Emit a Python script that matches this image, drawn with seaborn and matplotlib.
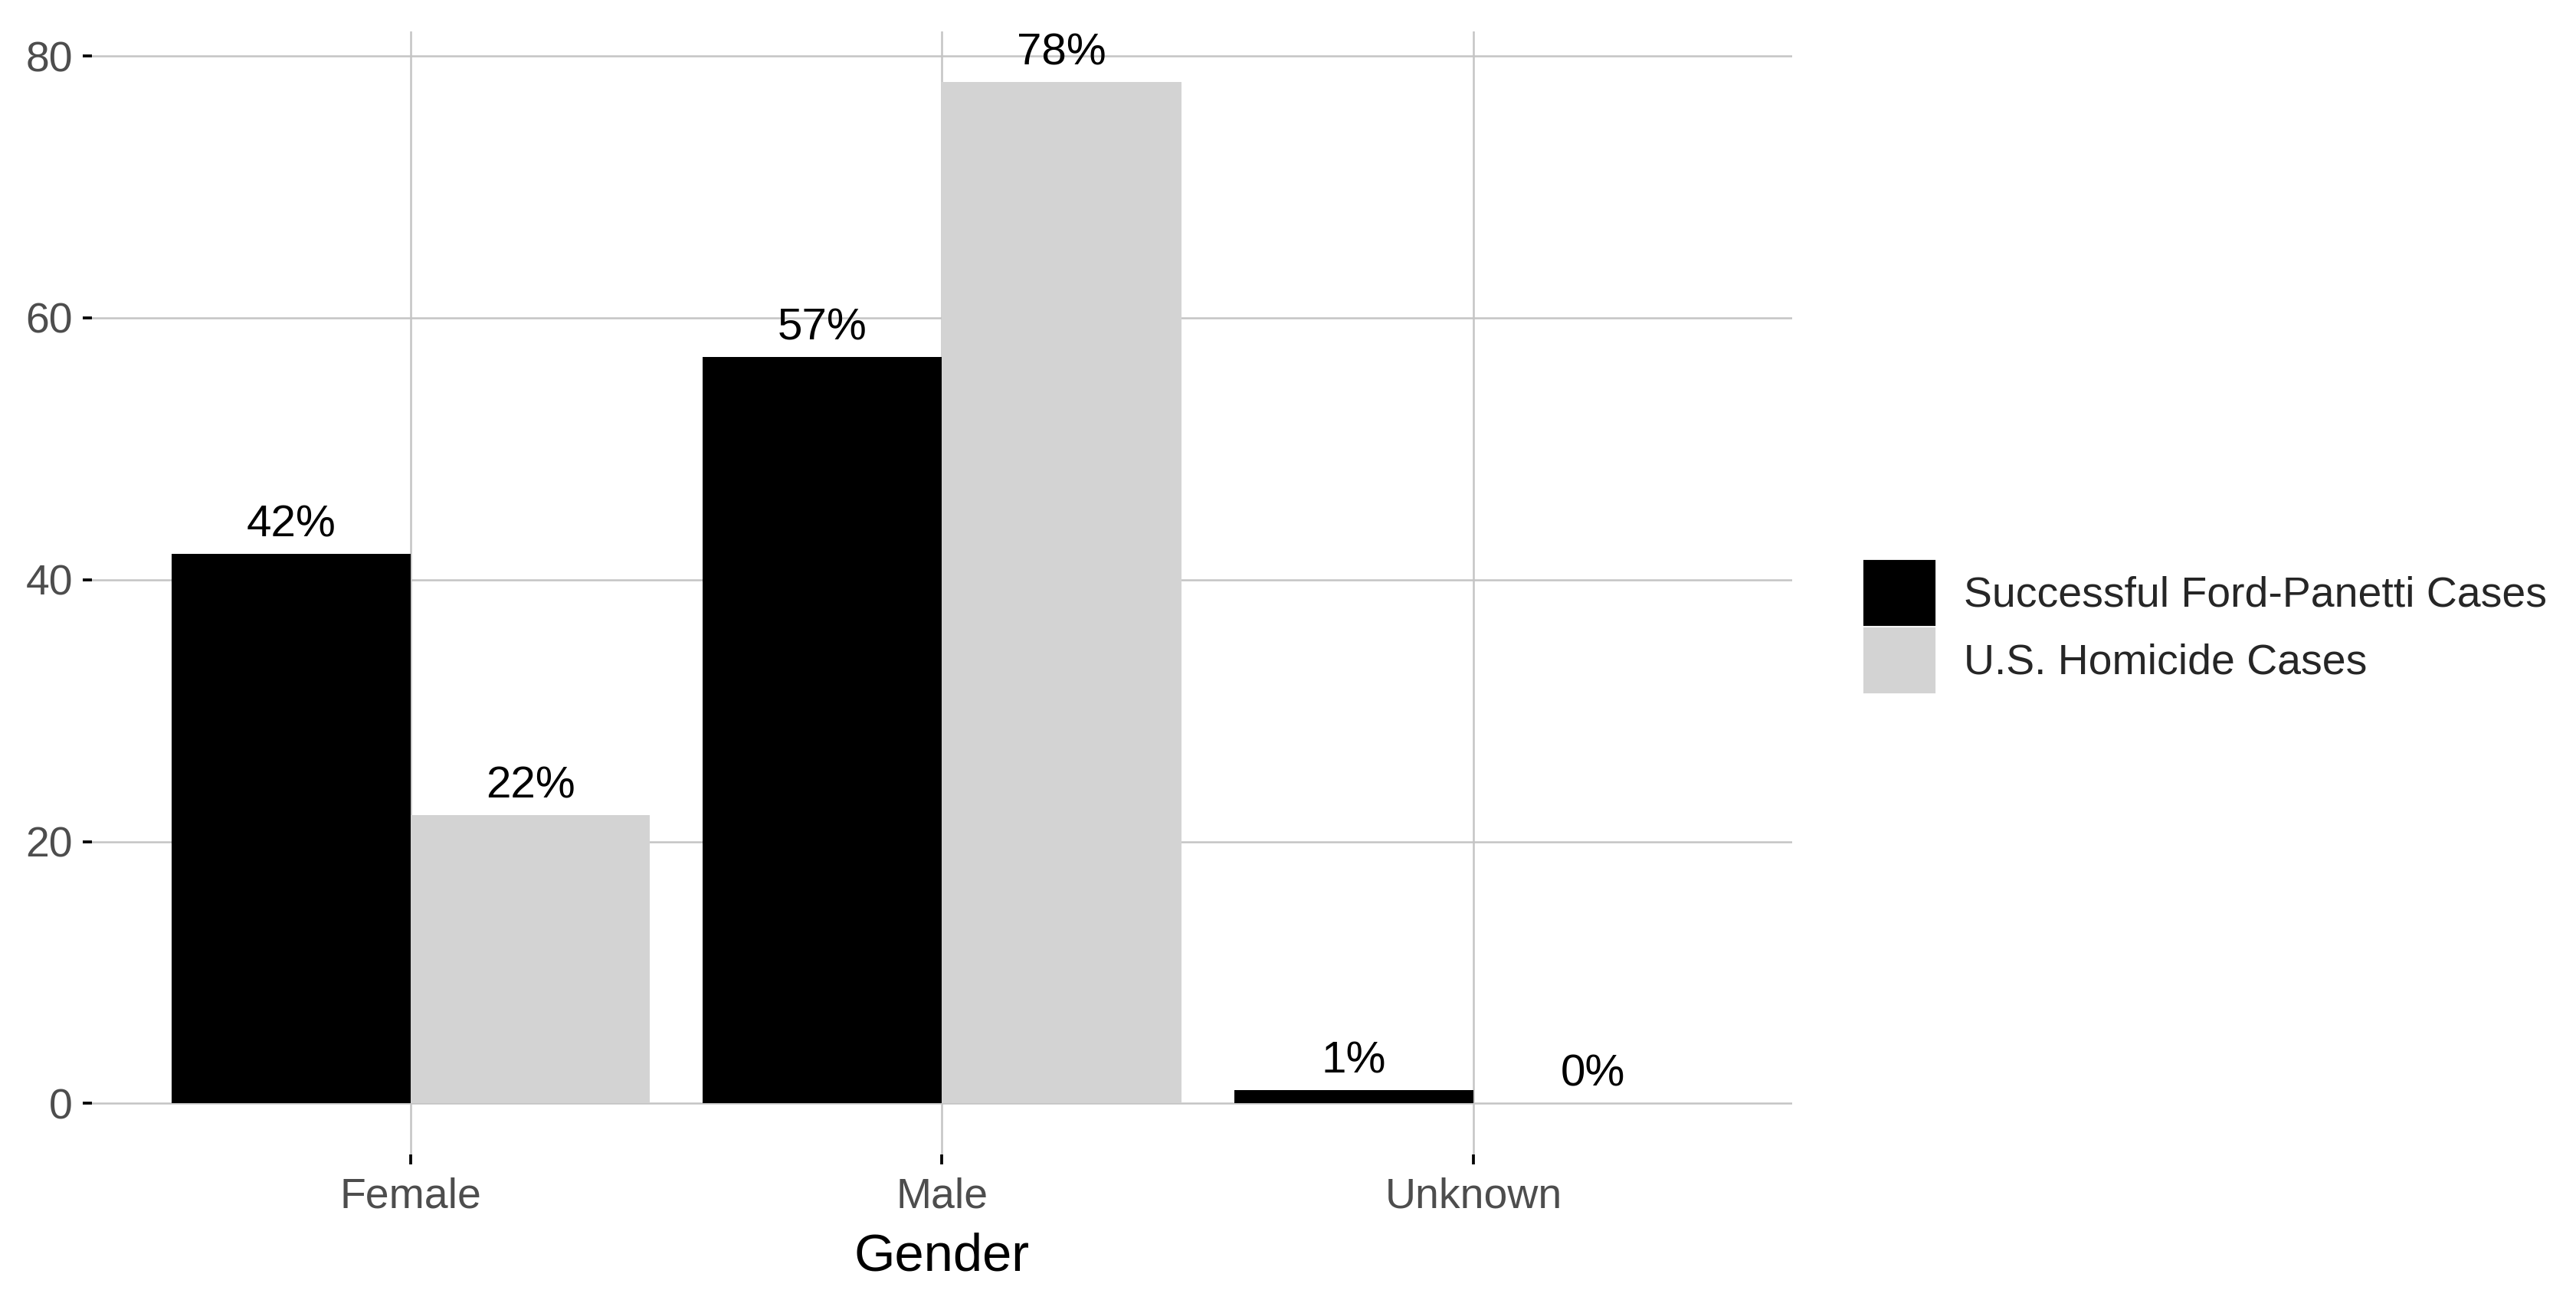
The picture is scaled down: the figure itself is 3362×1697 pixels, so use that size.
import matplotlib
matplotlib.use('Agg')
import matplotlib.pyplot as plt
import seaborn as sns
import pandas as pd

# values (percent)
genders = ['Female', 'Male', 'Unknown']
groups = ['Successful Ford-Panetti Cases', 'U.S. Homicide Cases']
ford_panetti = [42, 57, 1]
homicide = [22, 78, 0]
y_ticks = [0, 20, 40, 60, 80]

df = pd.DataFrame({
    'Gender': genders * 2,
    'Percent': ford_panetti + homicide,
    'Group': [groups[0]] * 3 + [groups[1]] * 3,
})

sns.set_theme(style='white')
plt.rcParams['font.family'] = ['Liberation Sans', 'DejaVu Sans']

fig = plt.figure(figsize=(3362 / 300, 1697 / 300), dpi=300)
ax = fig.add_axes([0.0357, 0.112, 0.660, 0.864])

sns.barplot(data=df, x='Gender', y='Percent', hue='Group', order=genders,
            hue_order=groups, palette=['black', '#D3D3D3'], width=0.9,
            gap=0, saturation=1, errorbar=None, linewidth=0, ax=ax)

for cont in ax.containers:
    ax.bar_label(cont, labels=[f'{v:.0f}%' for v in cont.datavalues],
                 padding=2.5, fontsize=14, color='black')

# ggplot-like scale expansion
ymax = max(ford_panetti + homicide)
ax.set_ylim(-0.05 * ymax, ymax * 1.05)
ax.set_xlim(-0.6, len(genders) - 0.4)
ax.set_yticks(y_ticks)

ax.grid(True, color='#C4C4C4', linewidth=0.6)
ax.set_axisbelow(True)
for s in ax.spines.values():
    s.set_visible(False)

ax.tick_params(axis='both', bottom=True, left=True, colors='black',
               labelcolor='#4D4D4D', labelsize=13.3, length=3,
               width=0.9, direction='out', pad=3)
ax.tick_params(axis='x', pad=4)
ax.set_xlabel('Gender', fontsize=16.5, color='black', labelpad=5)
ax.set_ylabel('')

ax.legend_.remove()
handles = [plt.Rectangle((0, 0), 1, 1, color=c) for c in ['black', '#D3D3D3']]
fig.legend(handles, groups, loc='center left', bbox_to_anchor=(0.724, 0.518),
           frameon=False, fontsize=13.3, handlelength=1.62, handleheight=1.9,
           labelspacing=0.11, handletextpad=0.7, borderpad=0, borderaxespad=0)

fig.savefig('out.png', dpi=300, facecolor='white')
